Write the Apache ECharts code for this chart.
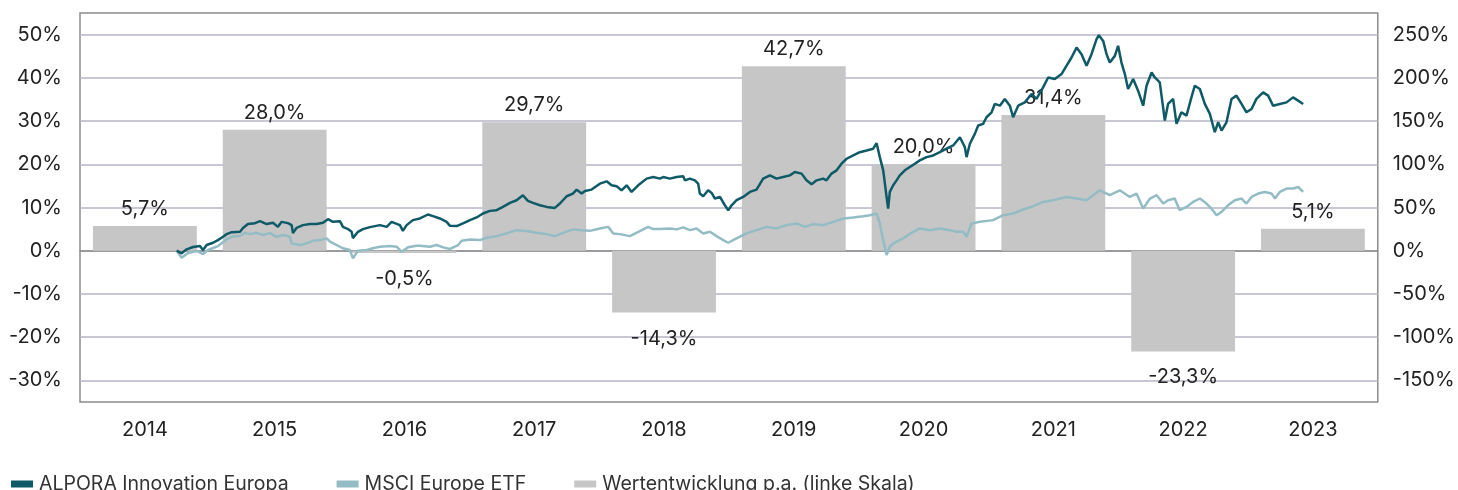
<!DOCTYPE html>
<html>
<head>
<meta charset="utf-8">
<script src="https://cdn.jsdelivr.net/npm/echarts@6/dist/echarts.min.js"></script>
<style>
  html, body { margin: 0; padding: 0; background: #fff; }
  #chart { width: 1458px; height: 490px; }
</style>
</head>
<body>
<div id="chart"></div>
<script>
// Jahre und Wertentwicklung p.a. (linke Skala)
const years = ['2014', '2015', '2016', '2017', '2018', '2019', '2020', '2021', '2022', '2023']
const yearlyReturn = [5.7, 28.0, -0.5, 29.7, -14.3, 42.7, 20.0, 31.4, -23.3, 5.1]

// ALPORA Innovation Europa, kumuliert in % (rechte Skala), [Jahr, Wert]
const alpora = [
  [2014.745, 0], [2014.783, -3.0], [2014.822, 1.6], [2014.871, 4.3], [2014.924, 5.4], [2014.948, 0.8],
  [2014.976, 6.6], [2015.025, 9.2], [2015.063, 12.3], [2015.102, 16.1], [2015.130, 19.2], [2015.169, 21.5],
  [2015.233, 21.9], [2015.256, 26.2], [2015.294, 30.8], [2015.348, 31.9], [2015.387, 34.2], [2015.438, 30.8],
  [2015.487, 32.3], [2015.525, 27.6], [2015.554, 33.4], [2015.602, 31.9], [2015.631, 29.6], [2015.641, 20.4],
  [2015.669, 26.5], [2015.718, 29.6], [2015.772, 30.8], [2015.824, 30.8], [2015.872, 32.3], [2015.911, 36.5],
  [2015.949, 33.4], [2016.003, 34.2], [2016.026, 27.6], [2016.065, 25.0], [2016.093, 21.9], [2016.103, 14.6],
  [2016.142, 21.9], [2016.180, 25.0], [2016.234, 27.3], [2016.311, 29.6], [2016.363, 27.6], [2016.401, 33.4],
  [2016.465, 29.6], [2016.488, 23.0], [2016.517, 29.6], [2016.565, 35.4], [2016.619, 37.3], [2016.681, 41.9],
  [2016.720, 40.0], [2016.773, 37.3], [2016.825, 33.4], [2016.851, 28.8], [2016.902, 28.5], [2016.951, 31.6],
  [2017.005, 35.4], [2017.056, 38.5], [2017.105, 43.1], [2017.159, 46.1], [2017.210, 46.9], [2017.259, 50.7],
  [2017.313, 55.3], [2017.364, 58.4], [2017.413, 64.2], [2017.451, 57.6], [2017.490, 55.3], [2017.544, 52.6],
  [2017.596, 50.7], [2017.659, 49.5], [2017.698, 54.6], [2017.750, 63.0], [2017.798, 66.1], [2017.827, 70.7],
  [2017.865, 66.1], [2017.891, 69.1], [2017.942, 70.7], [2018.006, 77.6], [2018.058, 80.3], [2018.096, 75.7],
  [2018.135, 74.5], [2018.173, 69.9], [2018.212, 75.7], [2018.250, 68.0], [2018.301, 75.7], [2018.366, 83.4],
  [2018.417, 85.2], [2018.468, 83.4], [2018.494, 85.2], [2018.545, 83.4], [2018.597, 85.2], [2018.648, 86.1],
  [2018.661, 81.4], [2018.699, 83.4], [2018.738, 81.4], [2018.763, 77.6], [2018.776, 66.1], [2018.802, 63.0],
  [2018.840, 69.9], [2018.867, 66.8], [2018.892, 60.4], [2018.931, 62.2], [2018.969, 52.6], [2018.995, 46.9],
  [2019.021, 52.6], [2019.059, 58.4], [2019.110, 62.2], [2019.162, 68.0], [2019.213, 70.7], [2019.264, 83.4],
  [2019.316, 87.2], [2019.367, 83.4], [2019.418, 85.2], [2019.470, 87.2], [2019.508, 91.0], [2019.560, 89.2],
  [2019.598, 81.4], [2019.637, 76.8], [2019.676, 81.4], [2019.726, 83.4], [2019.752, 81.4], [2019.791, 89.2],
  [2019.830, 93.0], [2019.868, 100.7], [2019.907, 106.4], [2019.958, 110.2], [2020.009, 114.0], [2020.061, 116.0],
  [2020.112, 118.0], [2020.138, 124.4], [2020.163, 108.3], [2020.189, 93.0], [2020.215, 62.2], [2020.227, 48.8],
  [2020.240, 68.0], [2020.266, 75.7], [2020.292, 81.4], [2020.317, 87.2], [2020.356, 93.0], [2020.394, 96.8],
  [2020.433, 100.7], [2020.471, 104.5], [2020.523, 108.3], [2020.574, 110.2], [2020.626, 114.0], [2020.677, 118.0],
  [2020.728, 121.8], [2020.780, 131.3], [2020.818, 119.8], [2020.831, 108.3], [2020.857, 123.7], [2020.895, 135.2],
  [2020.921, 144.8], [2020.959, 146.8], [2020.985, 154.4], [2021.024, 160.1], [2021.049, 169.8], [2021.088, 167.8],
  [2021.126, 175.6], [2021.165, 167.8], [2021.190, 154.4], [2021.229, 167.8], [2021.280, 171.6], [2021.332, 181.3],
  [2021.370, 175.6], [2021.421, 188.9], [2021.460, 200.4], [2021.511, 198.6], [2021.563, 204.4], [2021.601, 213.9],
  [2021.640, 223.5], [2021.679, 235.0], [2021.717, 227.4], [2021.756, 213.9], [2021.794, 227.4], [2021.833, 244.7],
  [2021.851, 249.3], [2021.884, 242.7], [2021.910, 227.4], [2021.935, 217.7], [2021.974, 225.4], [2021.999, 237.0],
  [2022.025, 217.7], [2022.051, 204.4], [2022.076, 187.1], [2022.115, 198.6], [2022.153, 185.1], [2022.192, 167.8],
  [2022.218, 190.9], [2022.257, 206.2], [2022.282, 200.4], [2022.320, 194.7], [2022.359, 150.6], [2022.384, 169.8],
  [2022.423, 175.6], [2022.449, 146.8], [2022.487, 160.1], [2022.526, 156.3], [2022.564, 177.4], [2022.590, 190.9],
  [2022.629, 187.1], [2022.667, 169.8], [2022.706, 158.3], [2022.744, 137.1], [2022.770, 148.6], [2022.796, 139.0],
  [2022.834, 148.6], [2022.873, 175.6], [2022.911, 179.4], [2022.950, 169.8], [2022.988, 160.1], [2023.027, 164.0],
  [2023.065, 175.6], [2023.116, 183.2], [2023.155, 179.4], [2023.193, 167.8], [2023.245, 169.8], [2023.297, 171.6],
  [2023.347, 177.4], [2023.386, 173.6], [2023.425, 169.8]
]

// MSCI Europe ETF, kumuliert in % (rechte Skala)
const msci = [
  [2014.745, 0], [2014.783, -8.1], [2014.832, -2.6], [2014.899, -0.3], [2014.948, -3.8], [2014.986, 0.8],
  [2015.063, 5.4], [2015.130, 13.1], [2015.169, 16.1], [2015.233, 17.3], [2015.271, 20.7], [2015.310, 19.2],
  [2015.361, 20.7], [2015.410, 18.1], [2015.464, 20.4], [2015.515, 16.1], [2015.564, 18.1], [2015.618, 16.1],
  [2015.631, 8.5], [2015.695, 6.6], [2015.747, 8.5], [2015.795, 11.5], [2015.849, 12.3], [2015.901, 14.3],
  [2015.926, 10.4], [2015.978, 6.6], [2016.026, 2.8], [2016.080, 0.8], [2016.103, -8.8], [2016.142, 0],
  [2016.209, 0.8], [2016.257, 2.8], [2016.311, 4.6], [2016.388, 5.4], [2016.440, 4.6], [2016.478, -1.2],
  [2016.527, 3.9], [2016.594, 5.8], [2016.619, 5.8], [2016.696, 4.6], [2016.748, 6.6], [2016.799, 3.9],
  [2016.851, 2.0], [2016.914, 6.6], [2016.941, 11.5], [2017.005, 13.1], [2017.082, 12.3], [2017.133, 15.0],
  [2017.210, 16.9], [2017.287, 20.0], [2017.364, 23.8], [2017.441, 22.7], [2017.518, 20.7], [2017.596, 19.2],
  [2017.659, 16.9], [2017.723, 20.7], [2017.800, 24.7], [2017.865, 23.8], [2017.929, 23.0], [2018.006, 25.8],
  [2018.070, 27.6], [2018.109, 20.0], [2018.160, 19.2], [2018.237, 16.9], [2018.314, 22.7], [2018.378, 27.6],
  [2018.417, 25.0], [2018.468, 25.0], [2018.545, 25.8], [2018.597, 24.7], [2018.648, 27.0], [2018.699, 23.8],
  [2018.751, 25.8], [2018.802, 20.0], [2018.854, 21.9], [2018.905, 16.9], [2018.956, 12.3], [2018.995, 9.2],
  [2019.059, 14.3], [2019.136, 20.0], [2019.213, 23.8], [2019.290, 27.6], [2019.367, 25.8], [2019.445, 29.6],
  [2019.522, 31.6], [2019.586, 27.6], [2019.649, 30.8], [2019.726, 29.6], [2019.804, 33.4], [2019.881, 37.3],
  [2019.958, 38.5], [2020.035, 40.0], [2020.086, 41.1], [2020.138, 43.1], [2020.150, 43.8], [2020.163, 31.6],
  [2020.189, 12.3], [2020.215, -5.0], [2020.240, 4.6], [2020.266, 8.5], [2020.343, 14.3], [2020.420, 21.9],
  [2020.471, 25.8], [2020.549, 23.8], [2020.626, 25.8], [2020.703, 23.8], [2020.754, 21.9], [2020.805, 21.9],
  [2020.831, 16.1], [2020.870, 31.6], [2020.934, 33.4], [2021.036, 35.4], [2021.113, 41.1], [2021.190, 43.1],
  [2021.267, 47.7], [2021.344, 51.5], [2021.421, 56.4], [2021.498, 58.4], [2021.601, 62.2], [2021.679, 60.4],
  [2021.756, 58.4], [2021.858, 69.9], [2021.935, 64.2], [2022.012, 69.9], [2022.089, 62.2], [2022.141, 66.1],
  [2022.192, 48.8], [2022.245, 60.4], [2022.296, 64.2], [2022.347, 54.6], [2022.384, 58.4], [2022.435, 60.4],
  [2022.474, 46.9], [2022.526, 50.7], [2022.577, 56.4], [2022.629, 60.4], [2022.680, 54.6], [2022.718, 48.8],
  [2022.757, 41.1], [2022.796, 44.9], [2022.846, 52.6], [2022.898, 58.4], [2022.950, 60.4], [2022.988, 54.6],
  [2023.027, 62.2], [2023.078, 66.1], [2023.129, 68.0], [2023.181, 66.1], [2023.208, 60.4], [2023.245, 68.0],
  [2023.297, 71.9], [2023.347, 71.9], [2023.386, 73.7], [2023.425, 68.0]
]

const fontFamily = 'Inter, "Open Sans", sans-serif'
const fmtPct = v => v.toFixed(1).replace('.', ',') + '%'

const chart = echarts.init(document.getElementById('chart'))

const option = {
  animation: false,
  textStyle: { fontFamily: fontFamily },
  grid: {
    left: 80,
    right: 80,
    top: 13,
    bottom: 88,
    show: true,
    borderColor: '#8c8c8c',
    borderWidth: 1.5
  },
  legend: {
    left: 6,
    top: 469,
    icon: 'rect',
    itemWidth: 22,
    itemHeight: 7,
    itemGap: 48,
    textStyle: { fontSize: 19.5, color: '#333', padding: [0, 0, 0, 1] },
    data: ['ALPORA Innovation Europa', 'MSCI Europe ETF', 'Wertentwicklung p.a. (linke Skala)']
  },
  xAxis: [
    {
      type: 'category',
      data: years,
      axisLine: { lineStyle: { color: '#8c8c8c', width: 1.5 } },
      axisTick: { alignWithLabel: true, length: 5, lineStyle: { color: '#b0b0b0' } },
      axisLabel: { fontSize: 20, color: '#222', margin: 18 }
    },
    {
      // versteckte Zeitachse für die Kursverläufe
      type: 'value',
      min: 2014,
      max: 2024,
      show: false
    }
  ],
  yAxis: [
    {
      type: 'value',
      min: -35,
      max: 55,
      interval: 5,
      axisLine: { show: false },
      axisTick: { show: false },
      axisLabel: {
        fontSize: 20,
        color: '#222',
        margin: 18,
        formatter: v => (v % 10 === 0 ? v + '%' : '')
      },
      splitLine: { lineStyle: { color: ['transparent', '#b4b6c6'], width: 1.5 } }
    },
    {
      type: 'value',
      min: -175,
      max: 275,
      interval: 25,
      axisLine: { show: false },
      axisTick: { show: false },
      splitLine: { show: false },
      axisLabel: {
        fontSize: 20,
        color: '#222',
        margin: 15,
        formatter: v => (v % 50 === 0 ? v + '%' : '')
      }
    }
  ],
  series: [
    {
      name: 'Wertentwicklung p.a. (linke Skala)',
      type: 'bar',
      xAxisIndex: 0,
      yAxisIndex: 0,
      barWidth: '80%',
      itemStyle: { color: '#c6c6c6' },
      data: yearlyReturn.map(v => ({
        value: v,
        label: {
          show: true,
          position: v < 0 ? 'bottom' : 'top',
          distance: v < 0 ? 16 : 7,
          fontSize: 20,
          color: '#222',
          formatter: p => fmtPct(p.value)
        }
      }))
    },
    {
      name: 'MSCI Europe ETF',
      type: 'line',
      xAxisIndex: 1,
      yAxisIndex: 1,
      showSymbol: false,
      lineStyle: { color: '#94bcc4', width: 2.5 },
      itemStyle: { color: '#94bcc4' },
      data: msci
    },
    {
      name: 'ALPORA Innovation Europa',
      type: 'line',
      xAxisIndex: 1,
      yAxisIndex: 1,
      showSymbol: false,
      lineStyle: { color: '#0e5a67', width: 2.5 },
      itemStyle: { color: '#0e5a67' },
      data: alpora
    }
  ]
}

chart.setOption(option)
</script>
</body>
</html>
